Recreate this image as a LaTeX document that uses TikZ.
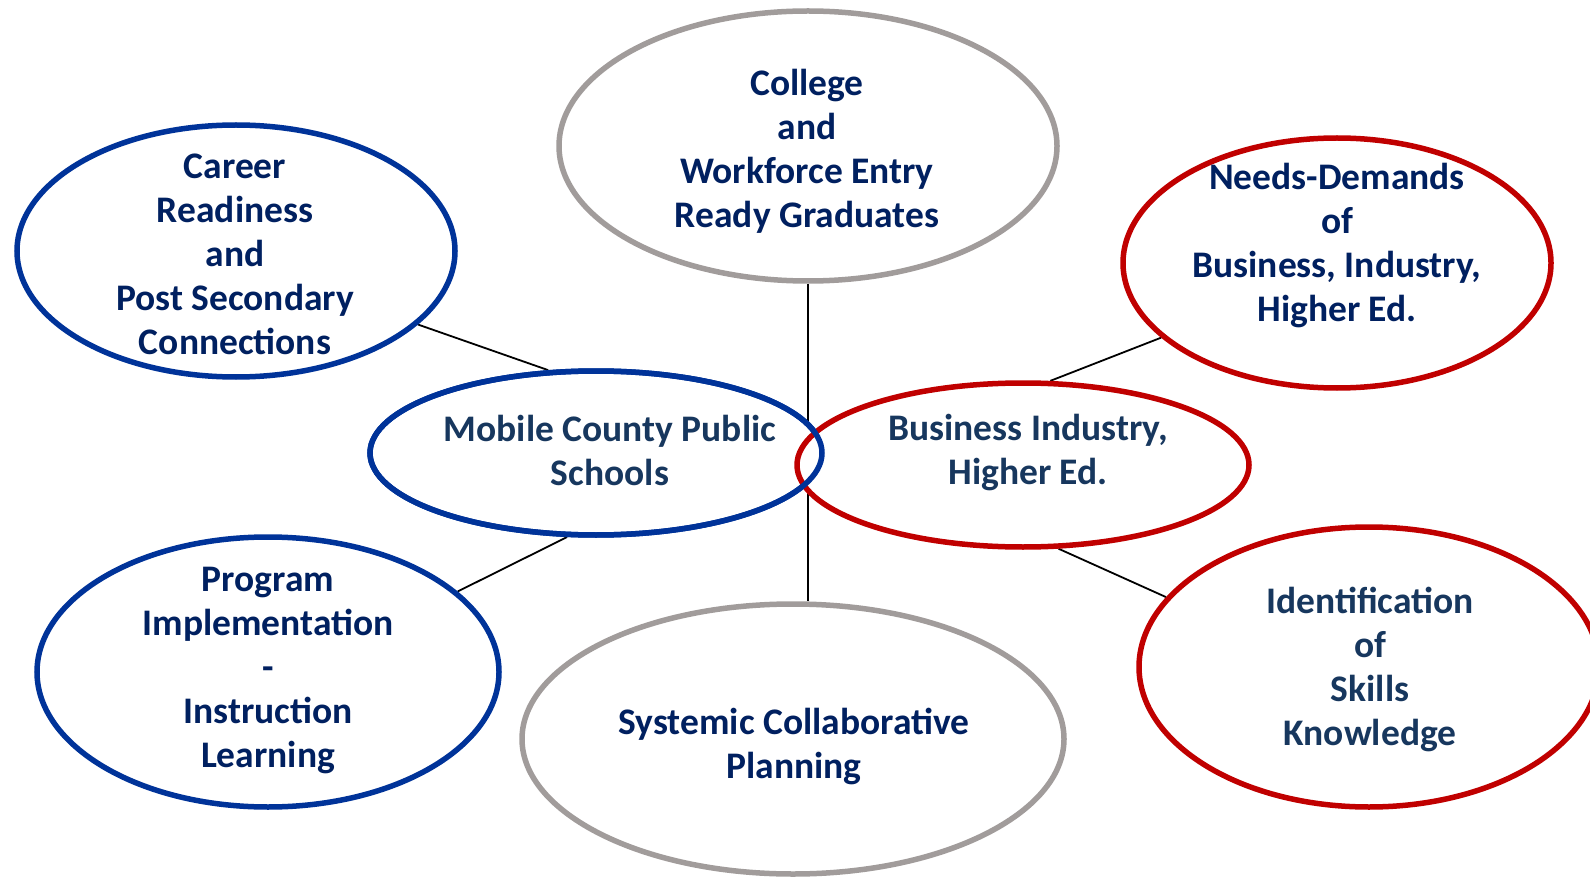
\documentclass[tikz,border=0pt]{standalone}
\usepackage{fontspec}
\setmainfont{Carlito}
\usetikzlibrary{shapes.geometric,backgrounds}
\definecolor{navy}{HTML}{002060}
\definecolor{steel}{HTML}{17375E}
\definecolor{ringblue}{HTML}{003399}
\definecolor{ringred}{HTML}{C00000}
\definecolor{ringgray}{HTML}{A19C9B}
\begin{document}
\begin{tikzpicture}[x=1pt,y=-1pt,
  ring/.style={ellipse, fill=white, line width=5.5pt, inner sep=0pt},
  bluering/.style={ring, draw=ringblue},
  redring/.style={ring, draw=ringred},
  grayring/.style={ring, draw=ringgray},
  lbl/.style={align=center, font=\fontsize{37.5}{44}\selectfont\bfseries, inner sep=0pt},
  navylbl/.style={lbl, text=navy},
  steellbl/.style={lbl, text=steel},
  link/.style={line width=1.8pt, black}]
\useasboundingbox (0,0) rectangle (1590,877);
\clip (0,0) rectangle (1590,877);

% ellipses
\node[grayring, minimum width=498pt, minimum height=270pt] (college) at (808,146) {};
\node[bluering, minimum width=438pt, minimum height=252pt] (career) at (236,251) {};
\node[redring, minimum width=428pt, minimum height=250pt] (needs) at (1337,263) {};
\node[bluering, minimum width=462pt, minimum height=270pt] (program) at (268,672) {};
\node[grayring, minimum width=542pt, minimum height=270pt] (systemic) at (793,739) {};
\node[redring, minimum width=460pt, minimum height=280pt] (ident) at (1369,667) {};
\node[bluering, minimum width=452pt, minimum height=164pt] (mobile) at (596,453) {};
\node[redring, minimum width=452pt, minimum height=164pt] (business) at (1023,465) {};
% outline of the Mobile ellipse where the Business ellipse overlaps it
\draw[ringblue, line width=5.5pt] (mobile.center) ellipse [x radius=226pt, y radius=82pt];

% connectors (behind the ellipses)
\begin{scope}[on background layer]
\draw[link] (career.-22.4) -- (mobile.120.5);
\draw[link] (program.23) -- (mobile.251.8);
\draw[link] (needs.-157) -- (business.72.4);
\draw[link] (ident.161.6) -- (business.-67.6);
\draw[link] (college.south) -- (college.south |- systemic.north);
\end{scope}

% texts
\node[navylbl] (t-college) at (807,151) {College\\and\\Workforce Entry\\Ready Graduates};
\node[navylbl] (t-career) at (235,254) {Career\\Readiness\\and\\Post Secondary\\Connections};
\node[navylbl] (t-needs) at (1337,246) {Needs-Demands\\of\\Business, Industry,\\Higher Ed.};
\node[steellbl] (t-mobile) at (610,450) {Mobile County Public\\Schools};
\node[steellbl] (t-business) at (1028,453) {Business Industry,\\Higher Ed.};
\node[navylbl] (t-program) at (268,671) {Program\\Implementation\\-\\Instruction\\Learning};
\node[navylbl] (t-systemic) at (794,746) {Systemic Collaborative\\Planning};
\node[steellbl] (t-ident) at (1370,669) {Identification\\of\\Skills\\Knowledge};
\end{tikzpicture}
\end{document}
